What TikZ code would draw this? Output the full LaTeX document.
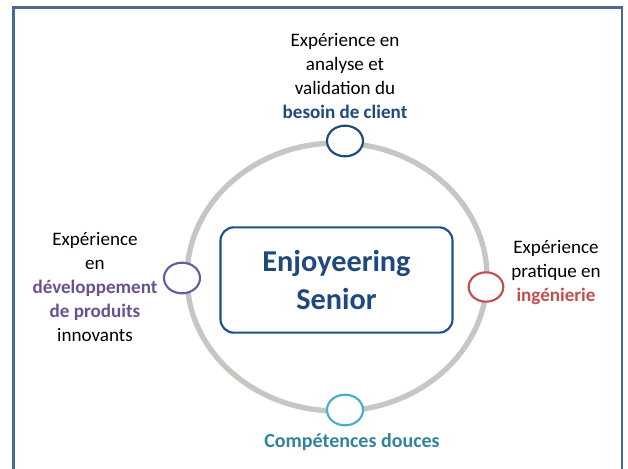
\documentclass[tikz,border=0pt]{standalone}
\usepackage{fontspec}
\setmainfont{Carlito}
\definecolor{frameblue}{HTML}{4A6898}
\definecolor{darkblue}{HTML}{1F497D}
\definecolor{boxblue}{HTML}{1F4E8C}
\definecolor{ringgray}{HTML}{C6C6C2}
\definecolor{purp}{HTML}{7058A0}
\definecolor{purptext}{HTML}{6A5290}
\definecolor{redc}{HTML}{C0504D}
\definecolor{teal}{HTML}{4BACC6}
\definecolor{tealtext}{HTML}{31849B}
\tikzset{
  smallc/.style={ellipse, draw, line width=1.6pt, fill=white, minimum width=27pt, minimum height=23pt, inner sep=0pt},
  lbl/.style={align=center, font=\fontsize{14.3}{18}\selectfont, text=black, inner sep=0pt},
}
\usetikzlibrary{shapes.geometric}
\begin{document}
\begin{tikzpicture}[x=0.75pt,y=-0.75pt]
\useasboundingbox (0,0) rectangle (628,468);
\fill[white] (0,0) rectangle (628,468);
% frame
\draw[frameblue, line width=2.2pt] (13.5,470) -- (13.5,7.5) -- (622,7.5) -- (622,470);
% ring
\draw[ringgray, line width=4pt] (337,277) ellipse [x radius=150, y radius=134];
% central box
\node[draw=boxblue, line width=1.6pt, rounded corners=10pt, minimum width=174pt, minimum height=79pt, align=center, text=darkblue, font=\bfseries\fontsize{22.7}{28}\selectfont] (core) at (336.5,280) {Enjoyeering\\Senior};
% small circles
\node[smallc, draw=darkblue] (top) at (345,141) {};
\node[smallc, draw=purp] (left) at (182,278) {};
\node[smallc, draw=redc, minimum width=26pt, minimum height=22pt] (right) at (486,287) {};
\node[smallc, draw=teal] (bottom) at (345,410) {};
% labels
\node[lbl, anchor=south] (ltop) at (345,119) {Expérience en\\analyse et\\validation du\\\textcolor{darkblue}{\bfseries besoin de client}};
\node[lbl] (lleft) at (95,287.5) {Expérience\\en\\\textcolor{purptext}{\bfseries développement}\\\textcolor{purptext}{\bfseries de produits}\\innovants};
\node[lbl] (lright) at (556,273) {Expérience\\pratique en\\\textcolor{redc}{\bfseries ingénierie}};
\node[lbl, text=tealtext, font=\bfseries\fontsize{15}{18}\selectfont] (lbottom) at (352,442) {Compétences douces};
\end{tikzpicture}
\end{document}
